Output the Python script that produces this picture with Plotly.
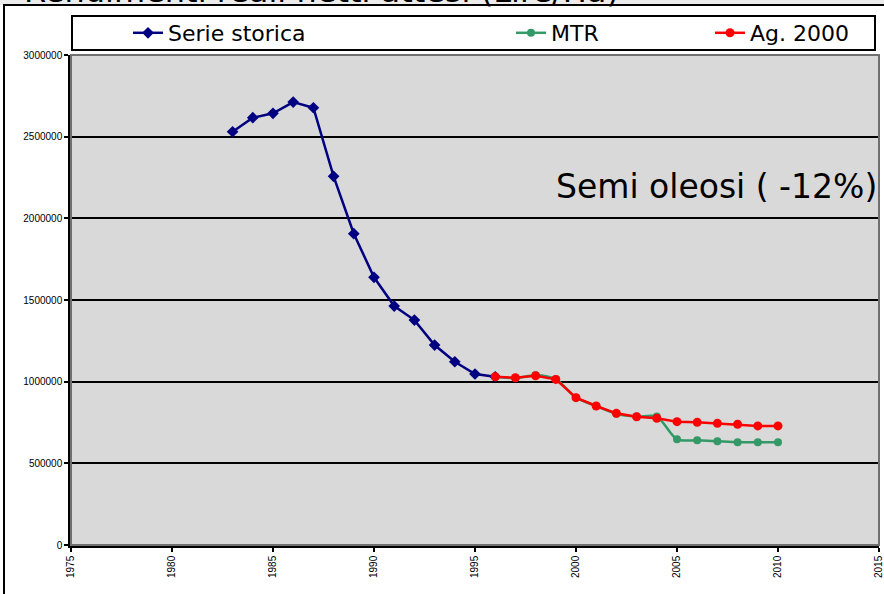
import plotly.graph_objects as go

# ---- data ----
years_hist = [1983, 1984, 1985, 1986, 1987, 1988, 1989, 1990, 1991, 1992, 1993, 1994, 1995, 1996]
serie_storica = [2530000, 2616000, 2643000, 2712000, 2677000, 2257000, 1906000, 1639000,
                 1463000, 1377000, 1224000, 1122000, 1047000, 1030000]
years_proj = [1996, 1997, 1998, 1999, 2000, 2001, 2002, 2003, 2004, 2005, 2006, 2007, 2008, 2009, 2010]
mtr = [1030000, 1022000, 1040000, 1016000, 902000, 851000, 803000, 786000, 786000,
       647000, 641000, 635000, 629000, 629000, 629000]
ag2000 = [1030000, 1024000, 1036000, 1014000, 902000, 851000, 806000, 785000, 776000,
          755000, 751000, 745000, 739000, 729000, 729000]
x_ticks = [1975, 1980, 1985, 1990, 1995, 2000, 2005, 2010, 2015]
y_ticks = [0, 500000, 1000000, 1500000, 2000000, 2500000, 3000000]
title_text = "Rendimenti reali netti attesi (Lire/Ha)"
note_text = "Semi oleosi ( -12%)"

# ---- pixel helpers for layout placement ----
W, H = 884, 594
L, R, T, B = 71, 5, 55, 49
pw, ph = W - L - R, H - T - B
def px(x): return (x - L) / pw
def py(y): return (H - B - y) / ph

fig = go.Figure()
fig.add_trace(go.Scatter(x=years_hist, y=serie_storica, name="Serie storica", mode="lines+markers",
                         line=dict(color="#000080", width=2.5),
                         marker=dict(symbol="diamond", size=9, color="#000080"),
                         legend="legend"))
fig.add_trace(go.Scatter(x=years_proj, y=mtr, name="MTR", mode="lines+markers",
                         line=dict(color="#339966", width=2.5, shape="spline", smoothing=0.8),
                         marker=dict(symbol="circle", size=8, color="#339966"),
                         legend="legend2"))
fig.add_trace(go.Scatter(x=years_proj, y=ag2000, name="Ag. 2000", mode="lines+markers",
                         line=dict(color="#ff0000", width=2.5),
                         marker=dict(symbol="circle", size=9, color="#ff0000"),
                         legend="legend3"))

legend_common = dict(orientation="h", yanchor="middle", xanchor="left", bgcolor="rgba(0,0,0,0)",
                     borderwidth=0, font=dict(family="DejaVu Sans", size=22, color="black"))

fig.update_layout(
    width=W, height=H,
    margin=dict(l=L, r=R, t=T, b=B, pad=0, autoexpand=False),
    paper_bgcolor="white",
    plot_bgcolor="#d9d9d9",
    showlegend=True,
    legend=dict(x=px(128), y=py(33), **legend_common),
    legend2=dict(x=px(511), y=py(33), **legend_common),
    legend3=dict(x=px(710), y=py(33), **legend_common),
    xaxis=dict(range=[1975, 2015.0001], tickvals=x_ticks, ticktext=[str(v) for v in x_ticks],
               tickangle=-90, ticks="outside", ticklen=4, tickcolor="black", tickwidth=1.5,
               ticklabeloverflow="allow", automargin=False,
               showgrid=False, zeroline=False, showline=True, linecolor="black", linewidth=2.5,
               tickfont=dict(family="Liberation Sans", size=10, color="black")),
    yaxis=dict(range=[0, 3000000], tickvals=y_ticks, ticktext=[str(v) for v in y_ticks],
               ticks="outside", ticklen=4, tickcolor="black", tickwidth=1.5, automargin=False,
               showgrid=True, gridcolor="black", gridwidth=2, zeroline=False,
               showline=True, linecolor="black", linewidth=2.5,
               tickfont=dict(family="Liberation Sans", size=10, color="black")),
    shapes=[
        # light strip above chart area
        dict(type="rect", xref="paper", yref="paper", x0=px(-10), x1=px(W + 10), y0=py(5), y1=py(-20),
             fillcolor="#ececec", line=dict(width=0), layer="below"),
        # chart area outer border
        dict(type="rect", xref="paper", yref="paper", x0=px(4), x1=px(W + 10), y0=py(H + 10), y1=py(5),
             fillcolor="rgba(0,0,0,0)", line=dict(color="black", width=2), layer="below"),
        # legend box
        dict(type="rect", xref="paper", yref="paper", x0=px(72), x1=px(875), y0=py(50), y1=py(16),
             fillcolor="white", line=dict(color="black", width=2), layer="below"),
        # plot area frame (top/right)
        dict(type="rect", xref="paper", yref="paper", x0=0, x1=1, y0=0, y1=1,
             fillcolor="rgba(0,0,0,0)", line=dict(color="#707070", width=2), layer="above"),
    ],
    annotations=[
        dict(text=title_text, xref="paper", yref="paper", x=px(22), y=py(4), xanchor="left",
             yanchor="bottom", showarrow=False, yshift=-8,
             font=dict(family="DejaVu Sans", size=32, color="black")),
        dict(text=note_text, xref="paper", yref="paper", x=px(554), y=py(186), xanchor="left",
             yanchor="middle", showarrow=False,
             font=dict(family="DejaVu Sans", size=33, color="black")),
    ],
)

fig.write_html("out.html", config={"displayModeBar": False},
               post_script="document.body.style.margin='0';")
